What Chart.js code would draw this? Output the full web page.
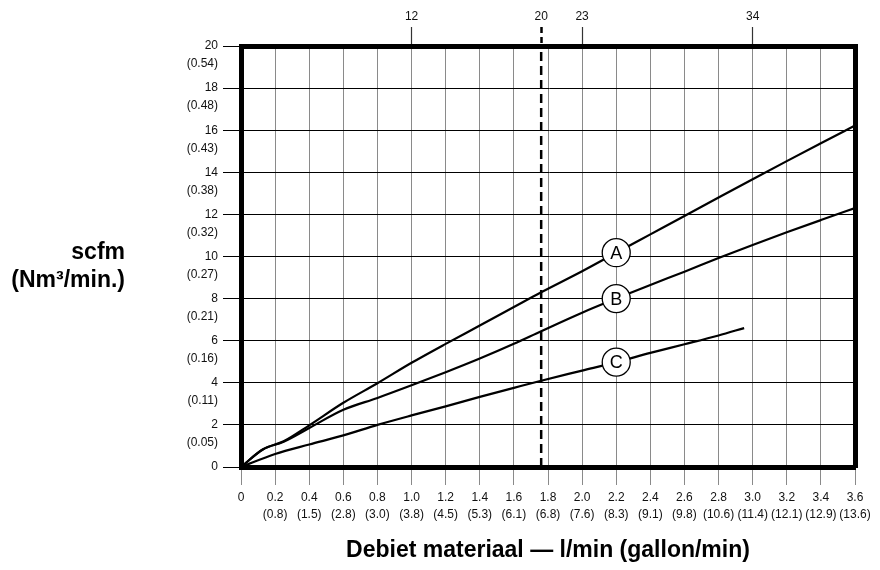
<!DOCTYPE html>
<html>
<head>
<meta charset="utf-8">
<script src="https://cdn.jsdelivr.net/npm/chart.js@4.4.1/dist/chart.umd.min.js"></script>
<style>
  html, body { margin: 0; padding: 0; background: #fff; }
  #wrap { position: relative; width: 880px; height: 570px; }
  #ytitle {
    position: absolute; left: 0; top: 237px; width: 125px; text-align: right;
    font: bold 23px "Liberation Sans", Arial, sans-serif; line-height: 28px; color: #000;
  }
</style>
</head>
<body>
<div id="wrap">
  <canvas id="chart" width="880" height="570"></canvas>
  <div id="ytitle">scfm<br>(Nm³/min.)</div>
</div>
<script>
// flow (l/min) ticks and the gallon/min value printed under each
var flowTicks = [0, 0.2, 0.4, 0.6, 0.8, 1.0, 1.2, 1.4, 1.6, 1.8, 2.0, 2.2, 2.4, 2.6, 2.8, 3.0, 3.2, 3.4, 3.6];
var gallonLabels = ['', '0.8', '1.5', '2.8', '3.0', '3.8', '4.5', '5.3', '6.1', '6.8', '7.6', '8.3', '9.1', '9.8', '10.6', '11.4', '12.1', '12.9', '13.6'];

// air ticks (scfm) and Nm3/min
var scfmTicks = [0, 2, 4, 6, 8, 10, 12, 14, 16, 18, 20];
var nm3Labels = ['', '0.05', '0.11', '0.16', '0.21', '0.27', '0.32', '0.38', '0.43', '0.48', '0.54'];

// top scale marks
var topTicks = [1.0, 1.76, 2.0, 3.0];
var topLabels = ['12', '20', '23', '34'];
var dashX = 1.76;

// curves
var curveNames = ['A', 'B', 'C'];
var flowAB = [0, 0.13, 0.25, 0.4, 0.6, 0.8, 1.0, 1.2, 1.4, 1.6, 1.76, 2.0, 2.2, 2.4, 2.6, 2.8, 3.0, 3.2, 3.4, 3.6];
var scfmA = [0, 0.84, 1.22, 1.98, 3.05, 3.98, 4.95, 5.85, 6.72, 7.6, 8.3, 9.3, 10.18, 11.05, 11.92, 12.8, 13.67, 14.53, 15.38, 16.22];
var scfmB = [0, 0.84, 1.2, 1.85, 2.72, 3.28, 3.88, 4.5, 5.15, 5.85, 6.45, 7.33, 8.0, 8.65, 9.28, 9.93, 10.55, 11.15, 11.73, 12.3];
var flowC = [0, 0.2, 0.4, 0.6, 0.8, 1.0, 1.2, 1.4, 1.6, 1.76, 2.0, 2.2, 2.4, 2.6, 2.8, 2.95];
var scfmC = [0, 0.62, 1.07, 1.5, 2.0, 2.45, 2.88, 3.33, 3.76, 4.1, 4.58, 4.98, 5.42, 5.83, 6.25, 6.6];
var markerX = 2.2;

var FONT = '"Liberation Sans", Arial, sans-serif';

function pts(xs, ys) {
  return xs.map(function (x, i) { return { x: x, y: ys[i] }; });
}

var markerPts = [
  { x: markerX, y: scfmA[flowAB.indexOf(markerX)] },
  { x: markerX, y: scfmB[flowAB.indexOf(markerX)] },
  { x: markerX, y: scfmC[flowC.indexOf(markerX)] }
];

function curve(data) {
  return {
    type: 'line', data: data, xAxisID: 'x', yAxisID: 'y', order: 1,
    borderColor: '#000', borderWidth: 2.2, pointRadius: 0,
    cubicInterpolationMode: 'monotone', fill: false
  };
}

// letters inside the marker circles
var markerText = {
  id: 'markerText',
  afterDatasetsDraw: function (chart) {
    var meta = chart.getDatasetMeta(0);
    var ctx = chart.ctx;
    ctx.save();
    ctx.font = '18px ' + FONT;
    ctx.fillStyle = '#000';
    ctx.textAlign = 'center';
    ctx.textBaseline = 'middle';
    meta.data.forEach(function (pt, i) { ctx.fillText(curveNames[i], pt.x, pt.y + 1); });
    ctx.restore();
  }
};

function isDash(c) { return c.tick && Math.abs(c.tick.value - dashX) < 1e-6; }

new Chart(document.getElementById('chart'), {
  type: 'line',
  data: {
    datasets: [
      {
        type: 'scatter', data: markerPts, xAxisID: 'x', yAxisID: 'y', order: 0,
        pointRadius: 14, pointBackgroundColor: '#fff', pointBorderColor: '#000', pointBorderWidth: 1.3,
        showLine: false
      },
      curve(pts(flowAB, scfmA)),
      curve(pts(flowAB, scfmB)),
      curve(pts(flowC, scfmC)),
      {
        type: 'line', data: [{ x: dashX, y: 0 }, { x: dashX, y: 20 }], xAxisID: 'x', yAxisID: 'y', order: 2,
        borderColor: '#000', borderWidth: 2.5, borderDash: [9, 5], pointRadius: 0, fill: false
      }
    ]
  },
  options: {
    responsive: false,
    animation: false,
    layout: { padding: 0 },
    plugins: { legend: { display: false }, tooltip: { enabled: false } },
    scales: {
      x: {
        type: 'linear', position: 'bottom', min: 0, max: 3.6,
        afterBuildTicks: function (s) { s.ticks = flowTicks.map(function (v) { return { value: v }; }); },
        afterFit: function (s) { s.height = 103; },
        grid: { color: '#8a8a8a', lineWidth: 1, tickLength: 18, tickColor: '#8a8a8a' },
        border: { display: true, width: 5, color: '#000' },
        ticks: {
          color: '#111', padding: 4, maxRotation: 0, autoSkip: false,
          font: { family: FONT, size: 12, lineHeight: 1.4 },
          callback: function (v, i) {
            return i === 0 ? ['0', ''] : [flowTicks[i].toFixed(1), '(' + gallonLabels[i] + ')'];
          }
        },
        title: {
          display: true, text: 'Debiet materiaal \u2014 l/min (gallon/min)', color: '#000',
          font: { family: FONT, size: 23, weight: 'bold' }, padding: { top: 0, bottom: 6 }
        }
      },
      x2: {
        type: 'linear', position: 'top', min: 0, max: 3.6,
        afterBuildTicks: function (s) { s.ticks = topTicks.map(function (v) { return { value: v }; }); },
        afterFit: function (s) { s.height = 46; },
        grid: {
          drawOnChartArea: false, tickLength: 19,
          tickColor: function (c) { return isDash(c) ? '#000' : '#333'; },
          tickWidth: function (c) { return isDash(c) ? 2.5 : 1.2; },
          tickBorderDash: function (c) { return isDash(c) ? [6, 4] : []; }
        },
        border: { display: true, width: 5, color: '#000' },
        ticks: {
          color: '#111', padding: 3, maxRotation: 0, autoSkip: false,
          font: { family: FONT, size: 12 },
          callback: function (v, i) { return topLabels[i]; }
        }
      },
      y: {
        type: 'linear', position: 'left', min: 0, max: 20,
        afterBuildTicks: function (s) { s.ticks = scfmTicks.map(function (v) { return { value: v }; }); },
        afterFit: function (s) { s.width = 241; },
        grid: { color: '#000', lineWidth: 1, tickLength: 18, tickColor: '#000' },
        border: { display: true, width: 5, color: '#000' },
        ticks: {
          color: '#111', padding: 5, labelOffset: 9,
          font: { family: FONT, size: 12, lineHeight: 1.5 },
          callback: function (v, i) {
            return [String(scfmTicks[i]), nm3Labels[i] ? '(' + nm3Labels[i] + ')' : ''];
          }
        }
      },
      yR: {
        type: 'linear', position: 'right', min: 0, max: 20,
        afterFit: function (s) { s.width = 25; },
        grid: { drawOnChartArea: false, drawTicks: false },
        border: { display: true, width: 5, color: '#000' },
        ticks: { display: false }
      }
    }
  },
  plugins: [markerText]
});
</script>
</body>
</html>
